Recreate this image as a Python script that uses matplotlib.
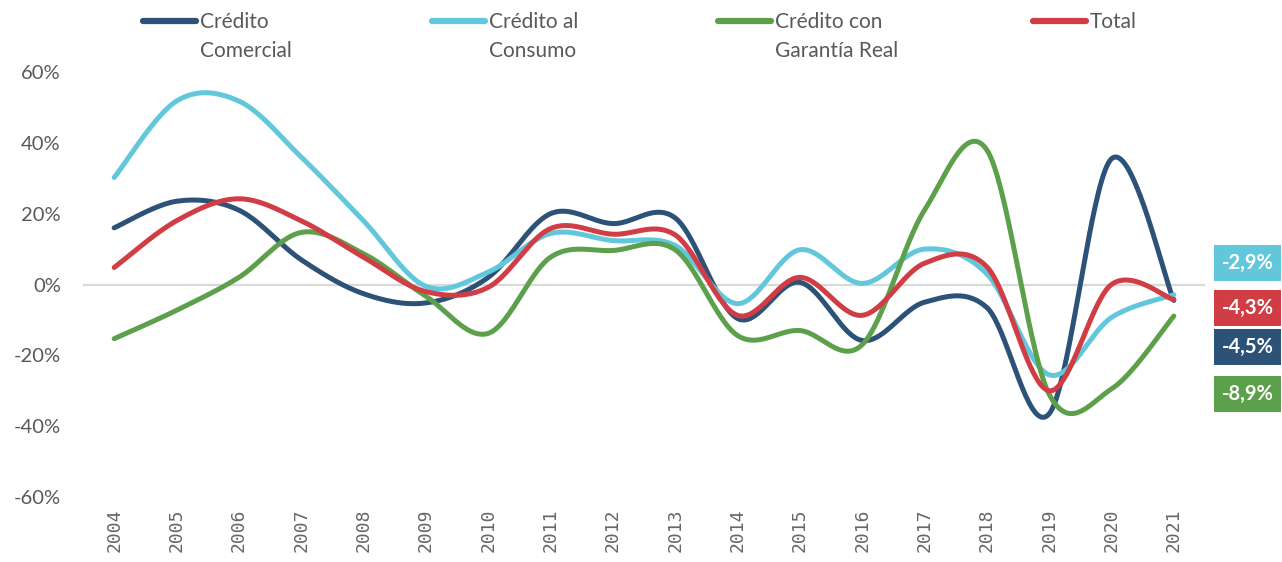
import numpy as np
import matplotlib
matplotlib.use("Agg")
import matplotlib.pyplot as plt
from matplotlib.lines import Line2D
from matplotlib.patches import Rectangle

plt.rcParams['axes.unicode_minus'] = False

years = list(range(2004, 2022))
comercial = [16, 23.5, 21, 7, -2.6, -5.2, 2, 20, 17.2, 18.8, -9.6, 0.6, -15.8, -5, -6.5, -36.5, 35.5, -4.5]
consumo = [30.2, 51.8, 51.8, 36, 18, -0.5, 3.5, 14.4, 12.4, 11, -5.4, 9.8, 0.3, 10, 3, -25.5, -9.3, -2.9]
garantia = [-15.3, -7.3, 2, 14.7, 8.7, -3.3, -13.8, 7.7, 9.6, 9.8, -14.4, -13, -17, 21, 38, -31, -29.5, -8.9]
total = [4.8, 18, 24.2, 18, 7.7, -2, -0.8, 15.8, 14.2, 14, -8.7, 2, -8.7, 6, 5, -30, 0, -4.3]

series_names = ["Crédito\nComercial", "Crédito al\nConsumo", "Crédito con\nGarantía Real", "Total"]
series_values = [comercial, consumo, garantia, total]
colors = ["#2C5278", "#63C7DB", "#5DA04C", "#D13D45"]
yticks = [-60, -40, -20, 0, 20, 40, 60]


def excel_smooth(x, y, n=40):
    pts = np.column_stack([np.asarray(x, float), np.asarray(y, float)])
    out = []
    for i in range(len(pts) - 1):
        p0 = pts[i - 1] if i > 0 else pts[i]
        p1 = pts[i]
        p2 = pts[i + 1]
        p3 = pts[i + 2] if i + 2 < len(pts) else pts[i + 1]
        c1 = p1 + (p2 - p0) / 6.0
        c2 = p2 - (p3 - p1) / 6.0
        t = np.linspace(0, 1, n)[:, None]
        seg = (1 - t) ** 3 * p1 + 3 * (1 - t) ** 2 * t * c1 + 3 * (1 - t) * t ** 2 * c2 + t ** 3 * p2
        out.append(seg if i == 0 else seg[1:])
    return np.vstack(out)


W, H = 1282, 562
fig = plt.figure(figsize=(W / 100, H / 100), dpi=100)
ax = fig.add_axes([83 / W, 65 / H, (1205 - 83) / W, (497 - 72) / H])

xpos = np.arange(len(years))
for vals, col in zip(series_values, colors):
    curve = excel_smooth(xpos, vals)
    ax.plot(curve[:, 0], curve[:, 1], color=col, lw=3.6, solid_capstyle='round', zorder=3)

ax.axhline(0, color="#D9D9D9", lw=1.6, zorder=1)
ax.set_xlim(-0.5, len(years) - 0.5)
ax.set_ylim(-60, 60)
ax.set_yticks(yticks)
ax.set_yticklabels([f"{v}%" for v in yticks], fontsize=14.5, color="#595959", family="Lato")
ax.set_xticks(xpos)
ax.set_xticklabels([str(y) for y in years], rotation=90, fontsize=13, color="#666666",
                   family="DejaVu Sans Mono")
ax.tick_params(length=0, pad=8)
ax.tick_params(axis='y', pad=16)
for s in ax.spines.values():
    s.set_visible(False)

# legend
leg_handle_x = [143, 432, 718, 1033]
for name, col, hx in zip(series_names, colors, leg_handle_x):
    fig.add_artist(Line2D([hx / W, (hx + 53) / W], [1 - 21 / H, 1 - 21 / H], color=col, lw=4.5,
                          solid_capstyle='round', transform=fig.transFigure))
    for k, line in enumerate(name.split("\n")):
        fig.text((hx + 57) / W, 1 - (22 + 29 * k) / H, line, fontsize=15, color="#595959",
                 family="Lato", va='center', ha='left')

# end value labels
end_vals = [consumo[-1], total[-1], comercial[-1], garantia[-1]]
end_cols = [colors[1], colors[3], colors[0], colors[2]]
box_cy = [263, 308, 347, 394]
for v, col, cy in zip(end_vals, end_cols, box_cy):
    fig.add_artist(Rectangle((1214 / W, 1 - (cy + 18) / H), 67 / W, 36 / H, facecolor=col,
                             edgecolor='none', transform=fig.transFigure))
    fig.text(1247.5 / W, 1 - cy / H, f"{v:.1f}%".replace('.', ','), fontsize=14.5, color='white',
             fontweight='bold', family="Lato", ha='center', va='center')

fig.savefig("out.png", dpi=100, facecolor='white')
